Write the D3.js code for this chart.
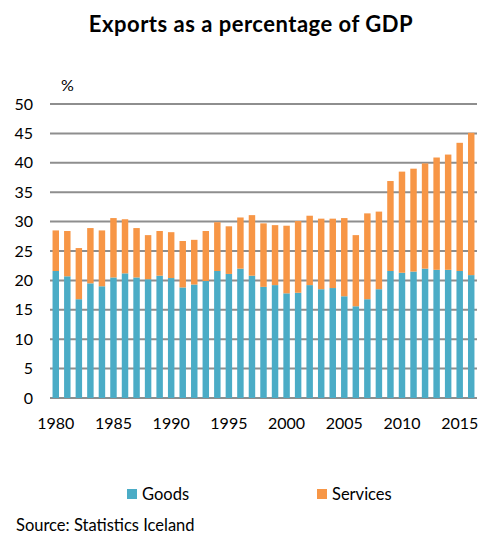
<!DOCTYPE html>
<html>
<head>
<meta charset="utf-8">
<script src="https://cdn.jsdelivr.net/npm/d3@7"></script>
<style>
  body { margin: 0; background: #fff; }
  svg { font-family: Lato, "Open Sans", sans-serif; }
</style>
</head>
<body>
<svg id="chart" width="485" height="537"></svg>
<script>
// data
var years = d3.range(1980, 2017);
var goods = [21.6, 20.7, 16.8, 19.5, 19.0, 20.5, 21.2, 20.5, 20.2, 20.8,
             20.4, 18.8, 19.3, 19.9, 21.6, 21.1, 22.0, 20.8, 18.9, 19.2,
             17.8, 17.9, 19.2, 18.5, 18.7, 17.3, 15.6, 16.8, 18.5, 21.6,
             21.3, 21.5, 22.0, 21.8, 21.8, 21.6, 20.9];
var total = [28.5, 28.4, 25.5, 28.9, 28.5, 30.6, 30.4, 28.9, 27.7, 28.4,
             28.2, 26.7, 26.9, 28.4, 29.9, 29.2, 30.7, 31.1, 29.7, 29.4,
             29.3, 30.1, 31.0, 30.5, 30.5, 30.6, 27.7, 31.4, 31.7, 36.9,
             38.5, 39.0, 39.9, 40.9, 41.4, 43.4, 45.1];
var services = total.map(function(t, i) { return +(t - goods[i]).toFixed(1); });
var yTicks = d3.range(0, 51, 5);
var xLabels = [1980, 1985, 1990, 1995, 2000, 2005, 2010, 2015];
var seriesNames = ["Goods", "Services"];
var colors = ["#4bacc6", "#f79646"];

var svg = d3.select("#chart");
var margin = { top: 104, left: 50, right: 8, bottom: 139 },
    width = 485 - margin.left - margin.right,
    height = 537 - margin.top - margin.bottom;

var rows = years.map(function(y, i) {
    return { year: y, Goods: goods[i], Services: services[i] };
});
var stacked = d3.stack().keys(seriesNames)(rows);

var x = d3.scaleBand().domain(years).range([0, width]).paddingInner(0.44).paddingOuter(0.22);
var y = d3.scaleLinear().domain([0, 50]).range([height, 0]);

var g = svg.append("g").attr("transform", "translate(" + margin.left + "," + margin.top + ")");

// gridlines
g.selectAll("line.grid")
    .data(yTicks)
    .enter().append("line")
    .attr("class", "grid")
    .attr("x1", 0).attr("x2", width)
    .attr("y1", function(d) { return y(d); })
    .attr("y2", function(d) { return y(d); })
    .attr("stroke", "#8e8e8e")
    .attr("stroke-width", 2);

// bars
g.selectAll("g.series")
    .data(stacked)
    .enter().append("g")
    .attr("class", "series")
    .attr("fill", function(d, i) { return colors[i]; })
    .selectAll("rect")
    .data(function(d) { return d; })
    .enter().append("rect")
    .attr("x", function(d) { return x(d.data.year); })
    .attr("width", x.bandwidth())
    .attr("y", function(d) { return y(d[1]); })
    .attr("height", function(d) { return y(d[0]) - y(d[1]); });

// y axis labels
var yAxis = d3.axisLeft(y).tickValues(yTicks).tickSize(0).tickPadding(17);
g.append("g").call(yAxis)
    .call(function(s) { s.select(".domain").remove(); })
    .selectAll("text")
    .attr("font-size", 16)
    .attr("fill", "#000")
    .style("font-family", "Lato, sans-serif");

// x axis labels
var xAxis = d3.axisBottom(x).tickValues(xLabels).tickSize(0).tickPadding(20);
g.append("g").attr("transform", "translate(0," + height + ")").call(xAxis)
    .call(function(s) { s.select(".domain").remove(); })
    .selectAll("text")
    .attr("font-size", 16)
    .attr("fill", "#000")
    .style("font-family", "Lato, sans-serif");

// title and unit
svg.append("text")
    .attr("x", 251).attr("y", 32)
    .attr("text-anchor", "middle")
    .attr("font-size", 22)
    .attr("font-weight", "bold")
    .attr("letter-spacing", 0.5)
    .text("Exports as a percentage of GDP");

svg.append("text")
    .attr("x", 61).attr("y", 91)
    .attr("font-size", 16)
    .text("%");

// legend
var legendX = [127, 317];
var legend = svg.selectAll("g.legend")
    .data(seriesNames)
    .enter().append("g")
    .attr("class", "legend")
    .attr("transform", function(d, i) { return "translate(" + legendX[i] + ",489)"; });
legend.append("rect")
    .attr("width", 10).attr("height", 10)
    .attr("fill", function(d, i) { return colors[i]; });
legend.append("text")
    .attr("x", 15).attr("y", 11)
    .attr("font-size", 16.5)
    .text(function(d) { return d; });

svg.append("text")
    .attr("x", 16).attr("y", 531)
    .attr("font-size", 16.5)
    .text("Source: Statistics Iceland");
</script>
</body>
</html>
